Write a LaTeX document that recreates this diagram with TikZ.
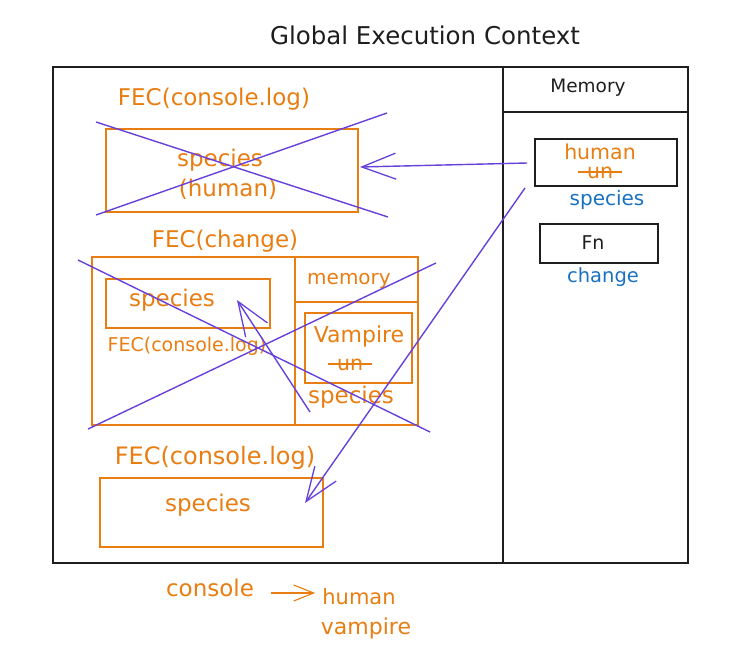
\documentclass[tikz,border=0pt]{standalone}
\usepackage{fontspec}
\setmainfont{DejaVu Sans}
\usetikzlibrary{arrows.meta}
\definecolor{orangeC}{RGB}{232,125,18}
\definecolor{purpleC}{RGB}{103,65,217}
\definecolor{blueC}{RGB}{25,113,194}
\definecolor{inkC}{RGB}{30,30,30}
\newcommand{\fs}[1]{\fontsize{#1}{#1}\selectfont}
\tikzset{
  frame/.style={draw=inkC,line width=1.6pt},
  blackbox/.style={draw=inkC,line width=1.4pt,inner sep=0pt},
  obox/.style={draw=orangeC,line width=1.3pt,inner sep=0pt},
  oline/.style={draw=orangeC,line width=1.3pt},
  otext/.style={text=orangeC,inner sep=1pt},
  btext/.style={text=blueC,inner sep=1pt},
  ktext/.style={text=inkC,inner sep=1pt},
  cross/.style={draw=purpleC,line width=1.4pt},
  parrow/.style={cross,-{Straight Barb[length=34pt,width=26pt,line width=1.3pt]}},
  oarrow/.style={oline,-{Straight Barb[length=20pt,width=16pt,line width=1.1pt]}},
  strike/.style={oline,line width=1.4pt}
}
\begin{document}
\begin{tikzpicture}[x=1pt,y=-1pt]
\useasboundingbox (0,0) rectangle (747,667);

% title
\node[ktext,font=\fs{24.5}] (title) at (425,35) {Global Execution Context};

% outer frame
\node[frame,minimum width=635pt,minimum height=496pt,inner sep=0pt] (outer) at (370.5,315) {};
\coordinate (dtop) at (503,67);
\coordinate (dbot) at (503,563);
\coordinate (mleft) at (503,112);
\coordinate (mright) at (688,112);
\draw[frame] (dtop) -- (dbot);
\draw[frame,line width=1.4pt] (mleft) -- (mright);
\node[ktext,font=\fs{18.5}] (memtitle) at (588,88) {Memory};

% memory entries
\node[blackbox,minimum width=142pt,minimum height=47pt] (hbox) at (606,162.5) {};
\node[otext,font=\fs{20.5}] (mhuman) at (600,152) {human};
\node[otext,font=\fs{20.5}] (mun) at (600,173) {un};
\draw[strike] ([xshift=-8pt,yshift=1pt]mun.west) -- ([xshift=8pt,yshift=1pt]mun.east);
\node[btext,font=\fs{20}] (mspecies) at (607,200) {species};
\node[blackbox,minimum width=118pt,minimum height=39pt] (fnbox) at (599,243.5) {};
\node[ktext,font=\fs{19}] (fn) at (593,243) {Fn};
\node[btext,font=\fs{19.5}] (mchange) at (603,277) {change};

% FEC(console.log) first
\node[otext,font=\fs{23}] (fec1label) at (214,99) {FEC(console.log)};
\node[obox,minimum width=252pt,minimum height=83pt] (fec1box) at (232,170.5) {};
\node[otext,font=\fs{23}] (fec1sp) at (220,160) {species};
\node[otext,font=\fs{23}] (fec1hu) at (228,189) {(human)};
\coordinate (c1a) at (96,122);
\coordinate (c1b) at (388,217);
\coordinate (c1c) at (96,215);
\coordinate (c1d) at (387,113);
\draw[cross] (c1a) -- (c1b);
\draw[cross] (c1c) -- (c1d);

% FEC(change)
\node[otext,font=\fs{23}] (fec2label) at (225,241) {FEC(change)};
\node[obox,minimum width=326pt,minimum height=168pt] (fec2box) at (255,341) {};
\coordinate (f2dt) at (295,257);
\coordinate (f2db) at (295,425);
\coordinate (f2hl) at (295,302);
\coordinate (f2hr) at (418,302);
\draw[oline] (f2dt) -- (f2db);
\draw[oline] (f2hl) -- (f2hr);
\node[otext,font=\fs{20}] (f2mem) at (349,281) {memory};
\node[obox,minimum width=107pt,minimum height=70pt] (vbox) at (358.5,348) {};
\node[otext,font=\fs{22}] (vamp) at (359,336) {Vampire};
\node[otext,font=\fs{20.5}] (vun) at (350,365) {un};
\draw[strike] ([xshift=-8pt,yshift=1pt]vun.west) -- ([xshift=8pt,yshift=1pt]vun.east);
\node[otext,font=\fs{23}] (f2sp) at (351,397) {species};
\node[obox,minimum width=164pt,minimum height=49pt] (sbox) at (188,303.5) {};
\node[otext,font=\fs{23}] (sboxsp) at (172,300) {species};
\node[otext,font=\fs{19}] (f2cl) at (187,346) {FEC(console.log)};
\coordinate (c2a) at (78,260);
\coordinate (c2b) at (430,432);
\coordinate (c2c) at (88,429);
\coordinate (c2d) at (436,263);
\draw[cross] (c2a) -- (c2b);
\draw[cross] (c2c) -- (c2d);
\coordinate (a3s) at (310,412);
\coordinate (a3e) at (237,300);
\draw[parrow] (a3s) -- (a3e);

% FEC(console.log) last
\node[otext,font=\fs{24}] (fec3label) at (215,458) {FEC(console.log)};
\node[obox,minimum width=223pt,minimum height=69pt] (fec3box) at (211.5,512.5) {};
\node[otext,font=\fs{23}] (fec3sp) at (208,505) {species};

% arrows from memory
\coordinate (a1s) at (527,163);
\coordinate (a1e) at (360,167);
\draw[parrow] (a1s) -- (a1e);
\coordinate (a2s) at (525,188);
\coordinate (a2e) at (305,503);
\draw[parrow] (a2s) -- (a2e);

% console output
\node[otext,font=\fs{23}] (console) at (210,588) {console};
\node[otext,font=\fs{21}] (ohuman) at (359,597) {human};
\node[otext,font=\fs{22}] (ovamp) at (366,628) {vampire};
\coordinate (ca) at (271,593);
\draw[oarrow] (ca) -- ([xshift=-6pt]ca -| ohuman.west);
\end{tikzpicture}
\end{document}
